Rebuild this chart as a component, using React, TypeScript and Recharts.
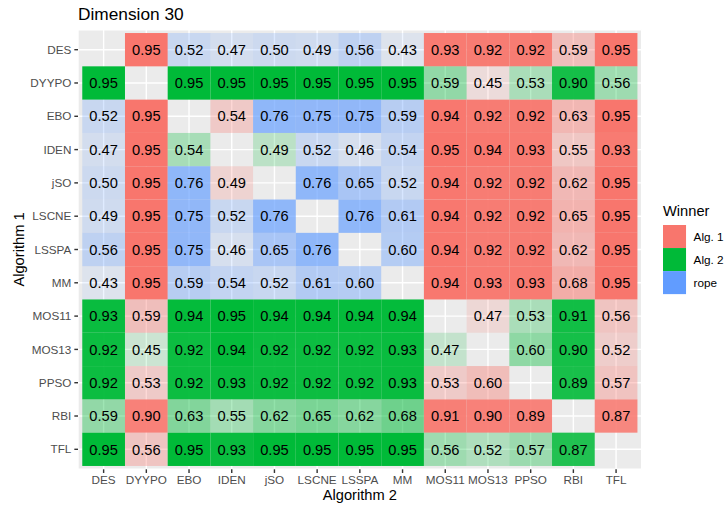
import React from "react";
import {
  ScatterChart,
  Scatter,
  XAxis,
  YAxis,
  CartesianGrid,
} from "recharts";

const FONT = '"Liberation Sans", Arial, Helvetica, sans-serif';

const ALG1 = "#F8766D";
const ALG2 = "#00BA38";
const ROPE = "#619CFF";
const PANEL = "#EBEBEB";
const AXIS_TEXT = "#4D4D4D";

const ALGOS = [
  "DES", "DYYPO", "EBO", "IDEN", "jSO", "LSCNE", "LSSPA",
  "MM", "MOS11", "MOS13", "PPSO", "RBI", "TFL",
];

// probability of the winning outcome, row = Algorithm 1, column = Algorithm 2
const PROB: (number | null)[][] = [
  [null, 0.95, 0.52, 0.47, 0.5, 0.49, 0.56, 0.43, 0.93, 0.92, 0.92, 0.59, 0.95],
  [0.95, null, 0.95, 0.95, 0.95, 0.95, 0.95, 0.95, 0.59, 0.45, 0.53, 0.9, 0.56],
  [0.52, 0.95, null, 0.54, 0.76, 0.75, 0.75, 0.59, 0.94, 0.92, 0.92, 0.63, 0.95],
  [0.47, 0.95, 0.54, null, 0.49, 0.52, 0.46, 0.54, 0.95, 0.94, 0.93, 0.55, 0.93],
  [0.5, 0.95, 0.76, 0.49, null, 0.76, 0.65, 0.52, 0.94, 0.92, 0.92, 0.62, 0.95],
  [0.49, 0.95, 0.75, 0.52, 0.76, null, 0.76, 0.61, 0.94, 0.92, 0.92, 0.65, 0.95],
  [0.56, 0.95, 0.75, 0.46, 0.65, 0.76, null, 0.6, 0.94, 0.92, 0.92, 0.62, 0.95],
  [0.43, 0.95, 0.59, 0.54, 0.52, 0.61, 0.6, null, 0.94, 0.93, 0.93, 0.68, 0.95],
  [0.93, 0.59, 0.94, 0.95, 0.94, 0.94, 0.94, 0.94, null, 0.47, 0.53, 0.91, 0.56],
  [0.92, 0.45, 0.92, 0.94, 0.92, 0.92, 0.92, 0.93, 0.47, null, 0.6, 0.9, 0.52],
  [0.92, 0.53, 0.92, 0.93, 0.92, 0.92, 0.92, 0.93, 0.53, 0.6, null, 0.89, 0.57],
  [0.59, 0.9, 0.63, 0.55, 0.62, 0.65, 0.62, 0.68, 0.91, 0.9, 0.89, null, 0.87],
  [0.95, 0.56, 0.95, 0.93, 0.95, 0.95, 0.95, 0.95, 0.56, 0.52, 0.57, 0.87, null],
];

// 1 = Alg. 1, 2 = Alg. 2, r = rope, - = diagonal
const WINNER = [
  "-1rrrrrr11111",
  "2-22222221222",
  "r1-1rrrr11111",
  "r12-2rrr11111",
  "r1r1-rrr11111",
  "r1rrr-rr11111",
  "r1rrrr-r11111",
  "r1rrrrr-11111",
  "21222222-1221",
  "222222222-221",
  "2122222211-21",
  "21222222111-1",
  "212222222222-",
];

const LEGEND = [
  { label: "Alg. 1", color: ALG1 },
  { label: "Alg. 2", color: ALG2 },
  { label: "rope", color: ROPE },
];

const WIN_COLOR: Record<string, string> = { "1": ALG1, "2": ALG2, r: ROPE };

const CHART_W = 725;
const CHART_H = 506;
const MARGIN = { top: 29.7, right: 83.3, bottom: 0, left: 0 };
const Y_AXIS_W = 78;
const X_AXIS_H = 36.7;
const DOMAIN: [number, number] = [-0.6, ALGOS.length - 0.4];
const PLOT_W = CHART_W - MARGIN.left - MARGIN.right - Y_AXIS_W;
const PLOT_H = CHART_H - MARGIN.top - MARGIN.bottom - X_AXIS_H;
const CELL_W = PLOT_W / (DOMAIN[1] - DOMAIN[0]);
const CELL_H = PLOT_H / (DOMAIN[1] - DOMAIN[0]);

const cells: { x: number; y: number; v: number; w: string }[] = [];
PROB.forEach((row, i) =>
  row.forEach((v, j) => {
    if (v !== null) cells.push({ x: j, y: i, v, w: WINNER[i][j] });
  })
);
const allV = cells.map((c) => c.v);
const vMin = Math.min(...allV);
const vMax = Math.max(...allV);
const alphaOf = (v: number) => 0.1 + (0.9 * (v - vMin)) / (vMax - vMin);

const idxTicks = ALGOS.map((_, i) => i);

function Tile(props: any) {
  const { cx, cy, payload } = props;
  return (
    <g>
      <rect
        x={cx - CELL_W / 2}
        y={cy - CELL_H / 2}
        width={CELL_W}
        height={CELL_H}
        fill={WIN_COLOR[payload.w]}
        fillOpacity={alphaOf(payload.v)}
      />
      <text
        x={cx}
        y={cy}
        dy="0.355em"
        textAnchor="middle"
        fontSize={14.67}
        fontFamily={FONT}
        fill="#000"
      >
        {payload.v.toFixed(2)}
      </text>
    </g>
  );
}

export default function App() {
  return (
    <div
      style={{
        position: "absolute",
        left: 0,
        top: 0,
        width: CHART_W,
        height: CHART_H,
        background: "#fff",
        fontFamily: FONT,
      }}
    >
      <ScatterChart width={CHART_W} height={CHART_H} margin={MARGIN}>
        <CartesianGrid fill={PANEL} stroke="#FFFFFF" strokeWidth={1.42} />
        <XAxis
          type="number"
          dataKey="x"
          domain={DOMAIN}
          ticks={idxTicks}
          interval={0}
          tickFormatter={(i: number) => ALGOS[i]}
          height={X_AXIS_H}
          axisLine={false}
          tickSize={3.67}
          tickMargin={2.93}
          tickLine={{ stroke: "#333333", strokeWidth: 1.42 }}
          tick={{ fill: AXIS_TEXT, fontSize: 11.73, fontFamily: FONT }}
          label={{
            value: "Algorithm 2",
            position: "insideBottom",
            offset: 6,
            fill: "#000",
            fontSize: 14.67,
            fontFamily: FONT,
          }}
        />
        <YAxis
          type="number"
          dataKey="y"
          domain={DOMAIN}
          ticks={idxTicks}
          interval={0}
          reversed
          tickFormatter={(i: number) => ALGOS[i]}
          width={Y_AXIS_W}
          axisLine={false}
          tickSize={3.67}
          tickMargin={2.93}
          tickLine={{ stroke: "#333333", strokeWidth: 1.42 }}
          tick={{ fill: AXIS_TEXT, fontSize: 11.73, fontFamily: FONT }}
          label={{
            value: "Algorithm 1",
            angle: -90,
            position: "insideLeft",
            offset: 18.5,
            fill: "#000",
            fontSize: 14.67,
            fontFamily: FONT,
            style: { textAnchor: "middle" },
          }}
        />
        <Scatter data={cells} shape={<Tile />} isAnimationActive={false} />
      </ScatterChart>
      <svg
        width={CHART_W}
        height={CHART_H}
        style={{ position: "absolute", left: 0, top: 0, pointerEvents: "none" }}
      >
        <text x={78} y={19.5} fontSize={17.3} fontFamily={FONT} fill="#000">
          Dimension 30
        </text>
        <text x={663} y={216} fontSize={14.67} fontFamily={FONT} fill="#000">
          Winner
        </text>
        {LEGEND.map((d, i) => (
          <g key={d.label}>
            <rect x={663} y={225 + i * 23.04} width={23.04} height={23.04} fill={d.color} />
            <text
              x={693.6}
              y={225 + i * 23.04 + 11.52}
              dy="0.355em"
              fontSize={11.73}
              fontFamily={FONT}
              fill="#000"
            >
              {d.label}
            </text>
          </g>
        ))}
      </svg>
    </div>
  );
}
